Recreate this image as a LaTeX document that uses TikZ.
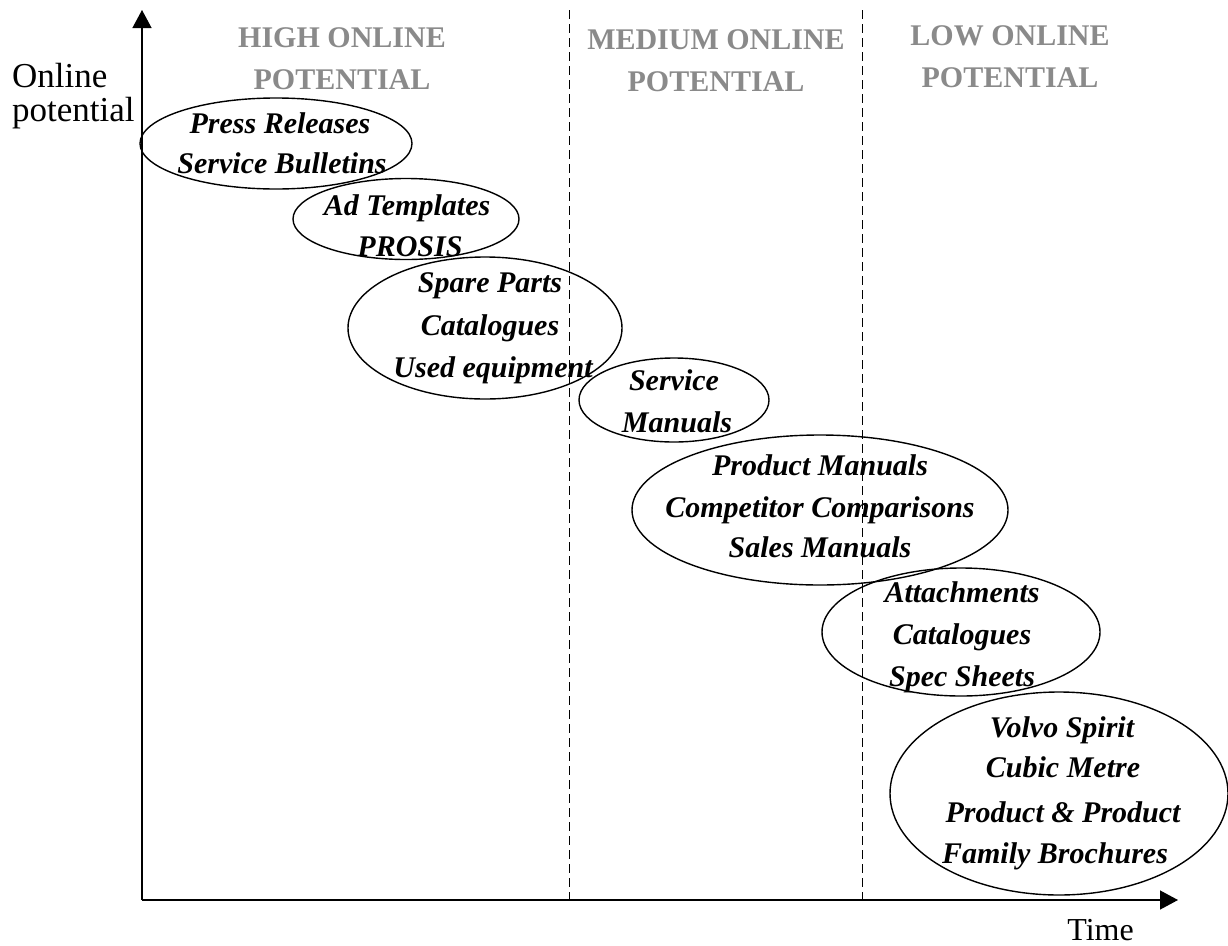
\documentclass[tikz,border=0pt]{standalone}
\usepackage{fontspec}
\setmainfont{Liberation Serif}
\usetikzlibrary{shapes.geometric,arrows.meta}
\definecolor{headgray}{HTML}{8A8A8A}
\tikzset{
  blob/.style={draw, line width=1.4pt, ellipse, inner sep=0pt},
  item/.style={anchor=base, inner sep=0pt,
    font=\bfseries\itshape\fontsize{30}{40}\selectfont},
  head/.style={anchor=base, inner sep=0pt, text=headgray,
    font=\bfseries\fontsize{30}{42}\selectfont},
  axislabel/.style={anchor=base west, inner sep=0pt, font=\fontsize{35}{38}\selectfont},
  axis/.style={line width=1.3pt, -{Triangle[length=18pt,width=19pt]}},
  divider/.style={line width=1pt, dash pattern=on 9pt off 5pt}
}
\begin{document}
\begin{tikzpicture}[x=1pt,y=-1pt]
\useasboundingbox (0,0) rectangle (1228,945);
% axes
\coordinate (O) at (142,900);
\coordinate (ytop) at (142,10);
\coordinate (xend) at (1178,900);
\draw[axis] (O) -- (ytop);
\draw[axis] (O) -- (xend);
% zone dividers
\coordinate (d1t) at (569,10);
\coordinate (d1b) at (569,900);
\coordinate (d2t) at (862,10);
\coordinate (d2b) at (862,900);
\draw[divider] (d1t) -- (d1b);
\draw[divider] (d2t) -- (d2b);
% axis labels
\node[axislabel] (ylab1) at (12,87) {Online};
\node[axislabel] (ylab2) at (12,121) {potential};
\node[axislabel, anchor=base east, font=\fontsize{32}{36}\selectfont] (xlab) at (1134,940) {Time};
% zone headings
\node[head] (hhigh1) at (342,47) {HIGH ONLINE};
\node[head] (hhigh2) at (342,89) {POTENTIAL};
\node[head] (hmed1) at (716,49) {MEDIUM ONLINE};
\node[head] (hmed2) at (716,91) {POTENTIAL};
\node[head] (hlow1) at (1010,45) {LOW ONLINE};
\node[head] (hlow2) at (1010,87) {POTENTIAL};
% document groups
\node[blob, minimum width=272pt, minimum height=91pt]  (e1) at (276,143.5) {};
\node[blob, minimum width=226pt, minimum height=81pt]  (e2) at (406,219) {};
\node[blob, minimum width=274pt, minimum height=142pt] (e3) at (485,328) {};
\node[blob, minimum width=190pt, minimum height=84pt]  (e4) at (674,400) {};
\node[blob, minimum width=376pt, minimum height=150pt] (e5) at (820,510) {};
\node[blob, minimum width=278pt, minimum height=128pt] (e6) at (961,632) {};
\node[blob, minimum width=338pt, minimum height=203pt] (e7) at (1059,793.5) {};
% group contents
\node[item] (t1a) at (280,133) {Press Releases};
\node[item] (t1b) at (282,173) {Service Bulletins};
\node[item] (t2a) at (407,215) {Ad Templates};
\node[item] (t2b) at (410,256) {PROSIS};
\node[item] (t3a) at (490,292) {Spare Parts};
\node[item] (t3b) at (490,335) {Catalogues};
\node[item] (t3c) at (493,377) {Used equipment};
\node[item] (t4a) at (674,390) {Service};
\node[item] (t4b) at (677,432) {Manuals};
\node[item] (t5a) at (820,475) {Product Manuals};
\node[item] (t5b) at (820,517) {Competitor Comparisons};
\node[item] (t5c) at (820,557) {Sales Manuals};
\node[item] (t6a) at (962,602) {Attachments};
\node[item] (t6b) at (962,644) {Catalogues};
\node[item] (t6c) at (962,686) {Spec Sheets};
\node[item] (t7a) at (1062,737) {Volvo Spirit};
\node[item] (t7b) at (1063,777) {Cubic Metre};
\node[item] (t7c) at (1063,822) {Product \& Product};
\node[item] (t7d) at (1055,863) {Family Brochures};
\end{tikzpicture}
\end{document}
